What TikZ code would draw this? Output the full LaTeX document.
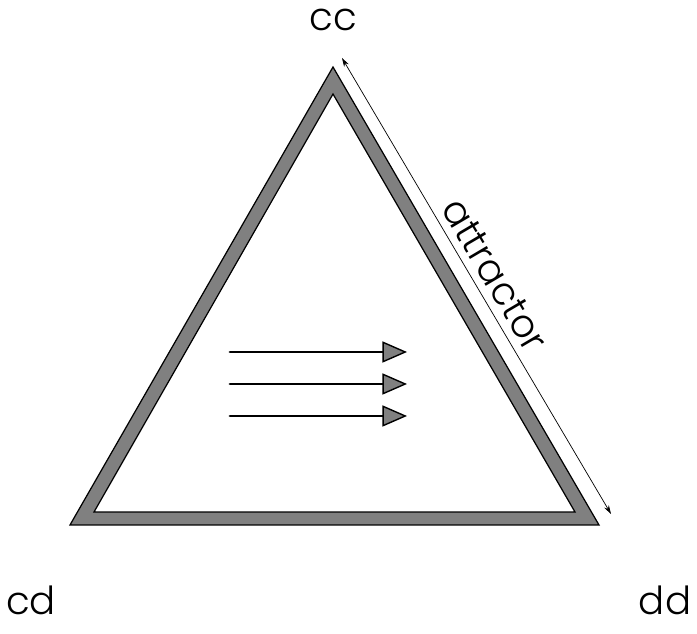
\documentclass[tikz,border=0pt]{standalone}
\usepackage{fontspec}
\setmainfont{Poppins}[UprightFont=* Light]
\usetikzlibrary{arrows.meta}

\begin{document}
\begin{tikzpicture}[x=0.02cm,y=-0.02cm,line cap=round,line join=miter]
  \useasboundingbox (0,0) rectangle (697,634);
  % Ecken des Simplex
  \coordinate (top) at (333,67);
  \coordinate (left) at (70,525);
  \coordinate (right) at (599,525);
  \coordinate (itop) at (333,94);
  \coordinate (ileft) at (94,512);
  \coordinate (iright) at (575,512);
  % breiter grauer Rand
  \draw[line width=0.7pt,fill=black!50] (top) -- (left) -- (right) -- cycle;
  \draw[line width=0.7pt,fill=white] (itop) -- (ileft) -- (iright) -- cycle;
  % Beschriftung der Ecken
  \node[font=\fontsize{22}{24}\selectfont] (cc) at (333,20) {cc};
  \node[font=\fontsize{22}{24}\selectfont] (cd) at (31,600) {cd};
  \node[font=\fontsize{22}{24}\selectfont] (dd) at (665,600) {dd};
  % Massstabslinie entlang der rechten Seite
  \coordinate (atop) at (342,58);
  \coordinate (abot) at (611,514);
  \draw[line width=0.4pt,{Stealth[length=5pt,width=3pt]}-{Stealth[length=5pt,width=3pt]}] (atop) -- (abot)
    node[midway,above=1pt,sloped,font=\fontsize{22}{24}\selectfont] (attr) {attractor};
  % drei Pfeile (Fluss nach rechts)
  \foreach \y/\name in {352/a, 384/b, 416/c} {
    \coordinate (s\name) at (230,\y);
    \coordinate (e\name) at (407,\y);
    \draw[line width=1.7pt,-{Triangle[length=14pt,width=12pt,fill=black!50,line width=0.8pt]}] (s\name) -- (e\name);
  }
\end{tikzpicture}
\end{document}
